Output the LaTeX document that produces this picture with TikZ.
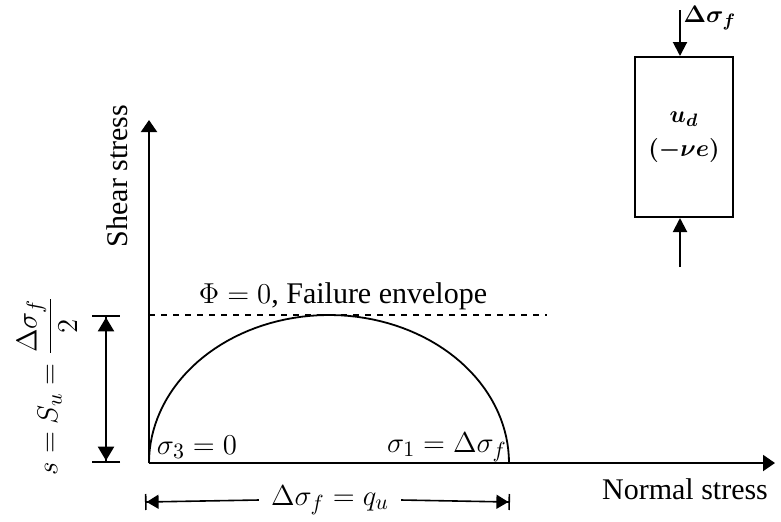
\documentclass[tikz,border=0pt]{standalone}
\usepackage{amsmath}
\usepackage{fontspec}
\setmainfont{Liberation Serif}
\usetikzlibrary{positioning,arrows.meta}

\begin{document}
\begin{tikzpicture}[
    x=0.5pt, y=-0.5pt,
    axis/.style={line width=1pt, -{Triangle[length=6pt, width=8pt]}},
    lbl/.style={font=\fontsize{15}{18}\selectfont, inner sep=1pt},
    dimline/.style={line width=1.2pt, {Bar[width=14pt]Triangle[length=7pt, width=8pt]}-{Triangle[length=7pt, width=8pt]Bar[width=14pt]}},
    halfdim/.style={line width=0.8pt, -{Triangle[length=6pt, width=7pt]Bar[width=8pt]}},
    sample/.style={rectangle, draw=black, line width=1pt, minimum width=49pt, minimum height=80pt,
                   align=center, font=\fontsize{13}{17}\selectfont},
    load/.style={line width=1pt, -{Triangle[length=7pt, width=7pt]}}
]
    \useasboundingbox (0,0) rectangle (781,521);

    % axes
    \coordinate (O) at (149,463);
    \coordinate (ytop) at (149,120);
    \coordinate (xend) at (775,463);
    \draw[axis] (O) -- (ytop);
    \draw[axis] (O) -- (xend);
    \node[lbl, rotate=90] (shear) at (117,176) {Shear stress};
    \node[lbl] (normal) at (685,489) {Normal stress};

    % Mohr circle and envelope
    \draw[line width=0.9pt] plot[domain=180:360, samples=72] ({329+180*cos(\x)}, {463+148*sin(\x)});
    \coordinate (env1) at (149,315);
    \coordinate (env2) at (547,315);
    \draw[dashed, line width=0.9pt] (env1) -- (env2);
    \node[lbl] (envlbl) at (343,296) {$\Phi = 0$, Failure envelope};
    \node[lbl] (sig3) at (197,447) {$\sigma_3 = 0$};
    \node[lbl] (sig1) at (447,447) {$\sigma_1 = \Delta\sigma_f$};

    % s = S_u
    \coordinate (su0) at (106,463);
    \coordinate (su1) at (106,315);
    \draw[dimline] (su0) -- (su1);
    \node[lbl, rotate=90] (su) at (47,386) {$s = S_u = \dfrac{\Delta\sigma_f}{2}$};

    % q_u
    \node[lbl, inner xsep=6pt] (qu) at (330,500) {$\Delta\sigma_f = q_u$};
    \coordinate (qa) at (145,502);
    \coordinate (qb) at (510,502);
    \draw[halfdim] (qu.west) -- (qa);
    \draw[halfdim] (qu.east) -- (qb);

    % sample
    \node[sample] (box) at (684,137) {$\boldsymbol{u_d}$\\$\boldsymbol{(-\nu e)}$};
    \coordinate (ftop) at (680,10);
    \coordinate (fbot) at (680,267);
    \draw[load] (ftop) -- (ftop |- box.north);
    \draw[load] (fbot) -- (fbot |- box.south);
    \node[lbl, font=\fontsize{13}{16}\selectfont] (dsf) at (710,18) {$\boldsymbol{\Delta\sigma_f}$};
\end{tikzpicture}
\end{document}
